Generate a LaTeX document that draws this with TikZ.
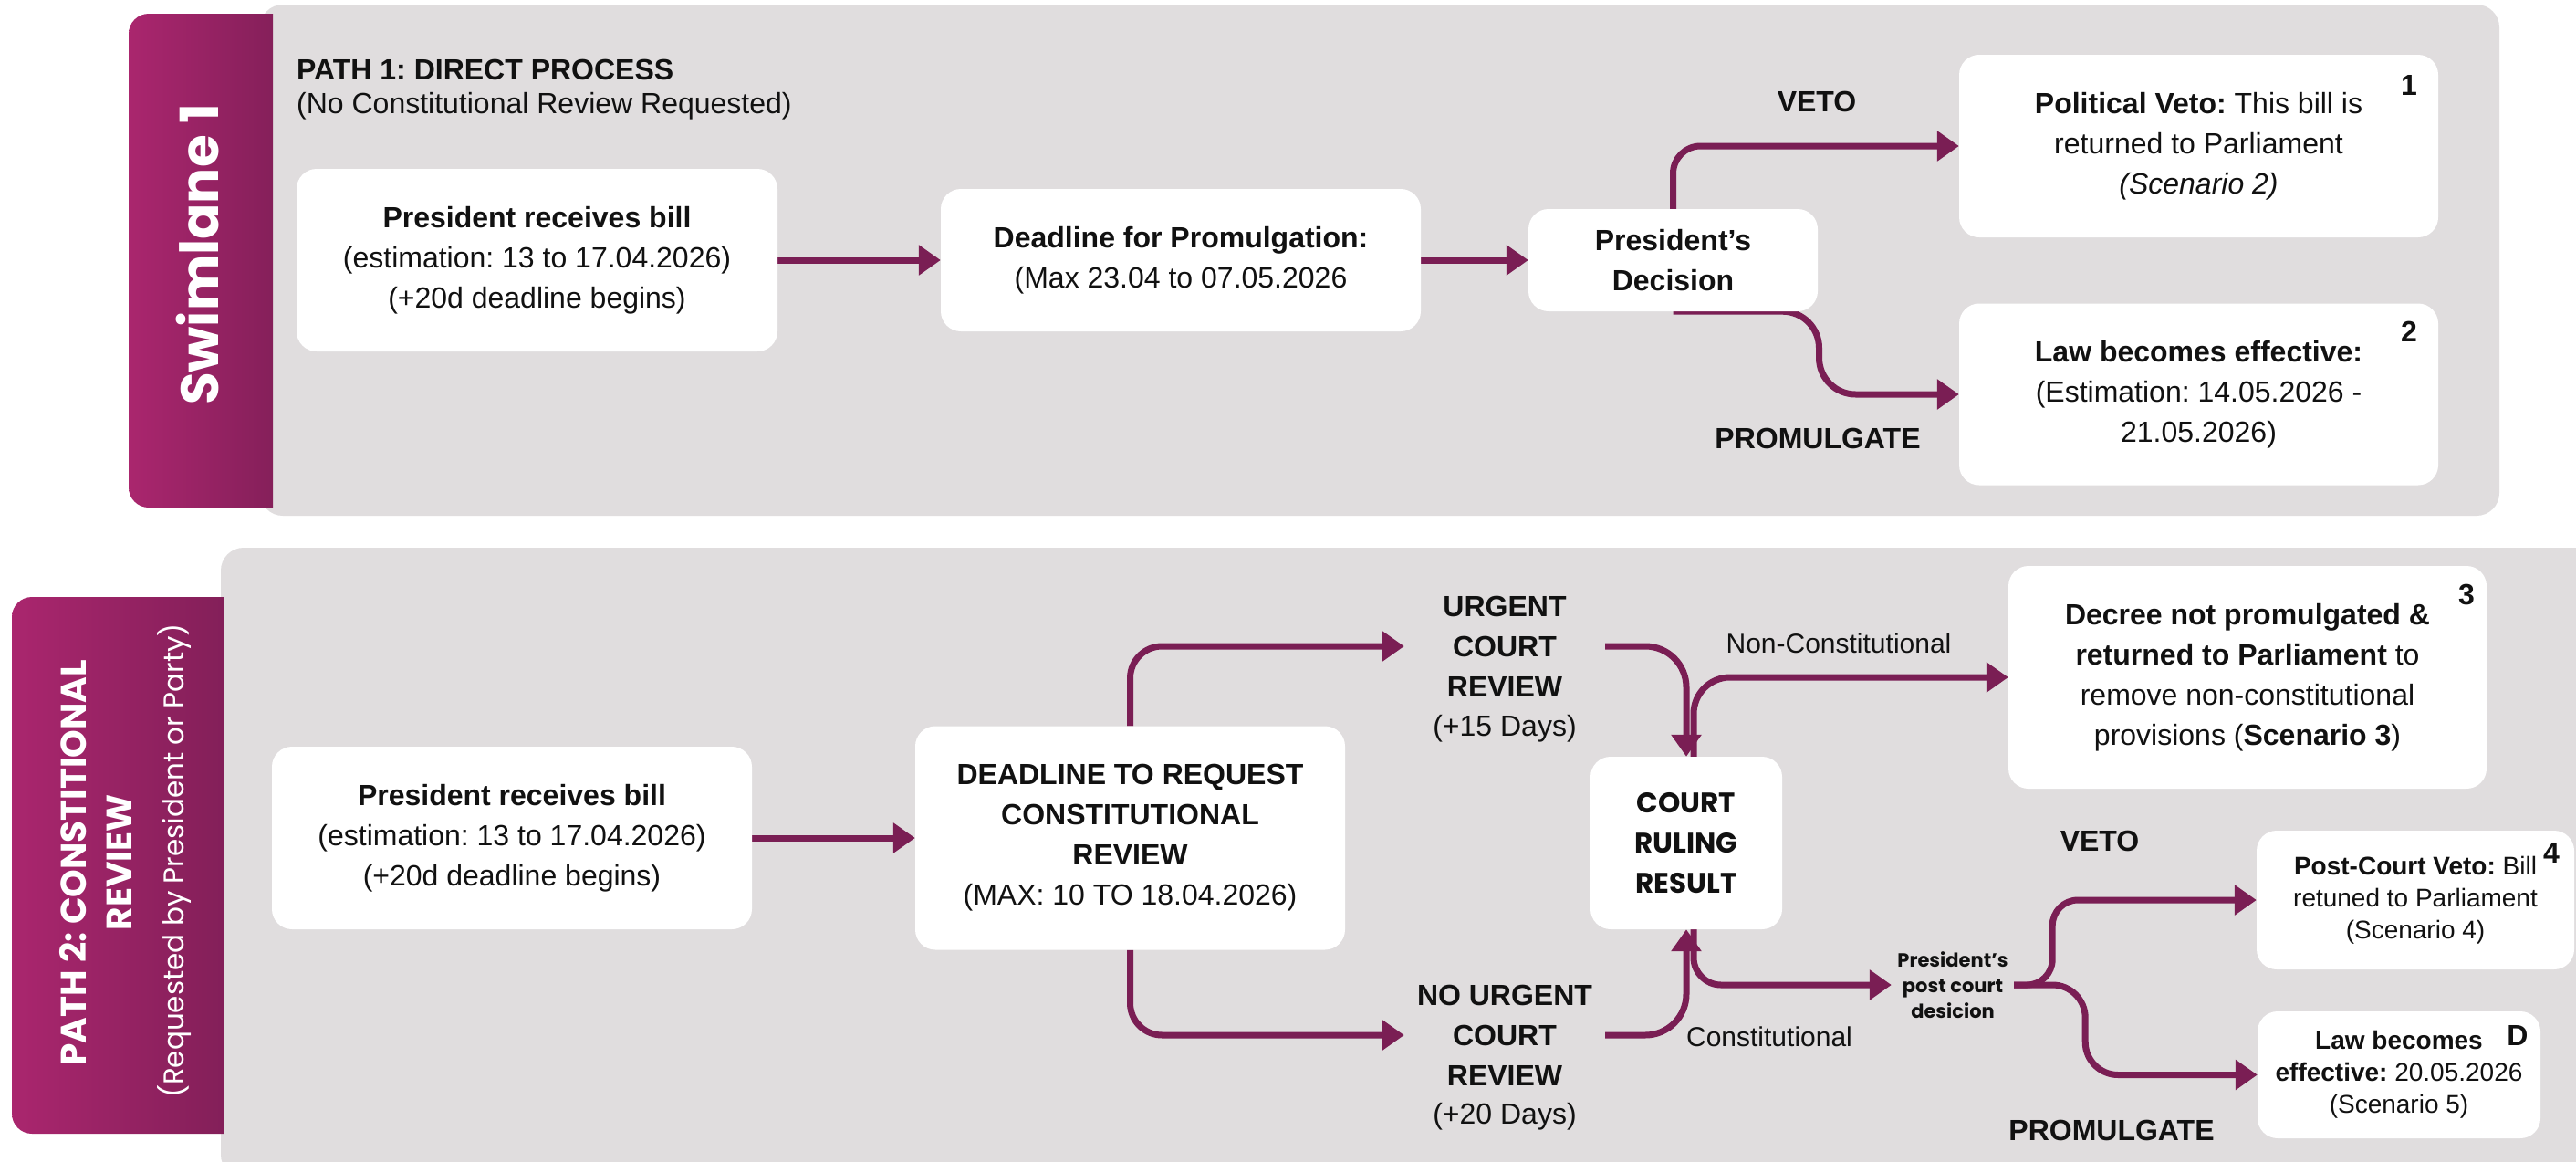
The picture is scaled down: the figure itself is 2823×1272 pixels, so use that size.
\documentclass[tikz,border=0pt]{standalone}
\usepackage{fontspec}
\setmainfont{Liberation Sans}
\newfontfamily\pop{Poppins}
\usetikzlibrary{arrows.meta,calc}
\newcommand\myfs[2]{\fontsize{#1}{#2}\selectfont}
\definecolor{linec}{RGB}{122,30,84}
\definecolor{panelg}{RGB}{224,221,222}
\definecolor{tabL}{RGB}{170,38,110}
\definecolor{tabR}{RGB}{124,30,85}
\definecolor{txt}{RGB}{17,17,17}
\pgfdeclarelayer{back}
\pgfdeclarelayer{mid}
\pgfsetlayers{back,mid,main}
\frenchspacing
\begin{document}
\begin{tikzpicture}[x=1pt,y=-1pt,
  box/.style={fill=white, rounded corners=22pt, align=center, text=txt, inner sep=0pt, font=\myfs{32}{44}},
  sbox/.style={box, font=\myfs{28}{35}},
  plain/.style={align=center, text=txt, inner sep=0pt, font=\myfs{32}{44}},
  lbl/.style={text=txt, inner sep=0pt, font=\bfseries\myfs{32}{34}},
  num/.style={text=txt, inner sep=0pt, font=\bfseries\myfs{32}{34}},
  elbl/.style={text=txt, inner sep=0pt, font=\myfs{30}{32}},
  conn/.style={draw=linec, line width=7pt, line join=round, -{Triangle[length=24pt,width=32pt]}},
  tabtxt/.style={rotate=90, text=white, inner sep=0pt}
]
\useasboundingbox (0,0) rectangle (2823,1272);

% ---------- panels and tabs ----------
\begin{pgfonlayer}{back}
\fill[white] (0,0) rectangle (2823,1272);
\fill[panelg, rounded corners=25pt] (285,5) rectangle (2739,565);
\fill[panelg, rounded corners=25pt] (242,600) rectangle (2870,1290);
\begin{scope}
\clip (141,15) rectangle (299,556);
\shade[left color=tabL, right color=tabR, rounded corners=22pt] (141,15) rectangle (340,556);
\end{scope}
\begin{scope}
\clip (13,654) rectangle (245,1242);
\shade[left color=tabL, right color=tabR, rounded corners=22pt] (13,654) rectangle (290,1242);
\end{scope}
\end{pgfonlayer}

\node[tabtxt, font=\pop\bfseries\myfs{58}{60}] (sw) at (216,279) {Swimlane 1};
\node[tabtxt, font=\pop\bfseries\myfs{39}{44}] (p2a) at (80,945) {PATH 2: CONSTITIONAL};
\node[tabtxt, font=\pop\bfseries\myfs{39}{44}] (p2b) at (131,945) {REVIEW};
\node[tabtxt, font=\pop\myfs{31}{36}] (p2c) at (191,943) {(Requested by President or Party)};

% ---------- path 1 ----------
\node[anchor=west, inner sep=0pt, text=txt, font=\bfseries\myfs{32}{36}] (t1) at (325,76) {PATH 1: DIRECT PROCESS};
\node[anchor=west, inner sep=0pt, text=txt, font=\myfs{32}{36}] (t1b) at (325,116) {(No Constitutional Review Requested)};

\node[box, minimum width=527pt, minimum height=200pt] (A1) at (588.5,285)
  {\textbf{President receives bill}\\(estimation: 13 to 17.04.2026)\\(+20d deadline begins)};
\node[box, minimum width=526pt, minimum height=156pt] (A2) at (1294,285)
  {\textbf{Deadline for Promulgation:}\\(Max 23.04 to 07.05.2026};
\node[box, minimum width=317pt, minimum height=112pt] (A3) at (1833.5,285)
  {\textbf{President’s}\\\textbf{Decision}};
\node[box, minimum width=525pt, minimum height=200pt] (A4) at (2409.5,160)
  {\textbf{Political Veto:} This bill is\\returned to Parliament\\\textit{(Scenario 2)}};
\node[box, minimum width=525pt, minimum height=199pt] (A5) at (2409.5,432)
  {\textbf{Law becomes effective:}\\(Estimation: 14.05.2026 -\\21.05.2026)};
\node[num] (n1) at (2640,93) {1};
\node[num] (n2) at (2640,363) {2};
\node[lbl] (veto1) at (1991,111) {VETO};
\node[lbl] (prom1) at (1992,480) {PROMULGATE};

\begin{pgfonlayer}{mid}
\draw[conn] (A1.east) -- (A2.west);
\draw[conn] (A2.east) -- (A3.west);
\draw[conn, rounded corners=30pt] (A3.north) |- (A4.west);
\coordinate (pA) at ($(A3.south)+(160,0)$);
\draw[conn, rounded corners=40pt] (A3.south) -- (pA) |- (A5.west);
\end{pgfonlayer}

% ---------- path 2 ----------
\node[box, minimum width=526pt, minimum height=200pt] (B1) at (561,918)
  {\textbf{President receives bill}\\(estimation: 13 to 17.04.2026)\\(+20d deadline begins)};
\node[box, minimum width=471pt, minimum height=245pt] (B2) at (1238.5,918)
  {\textbf{DEADLINE TO REQUEST}\\\textbf{CONSTITUTIONAL}\\\textbf{REVIEW}\\(MAX: 10 TO 18.04.2026)};
\node[plain, minimum width=220pt, font=\bfseries\myfs{32}{44}] (U) at (1649,708) {URGENT\\COURT\\REVIEW};
\node[plain] (U2) at (1649,798) {(+15 Days)};
\node[plain, minimum width=220pt, font=\bfseries\myfs{32}{44}] (NU) at (1649,1134) {NO URGENT\\COURT\\REVIEW};
\node[plain] (NU2) at (1649,1223) {(+20 Days)};
\node[box, minimum width=210pt, minimum height=189pt, font=\pop\bfseries\myfs{31}{44}] (B3) at (1848,923.5)
  {COURT\\RULING\\RESULT};
\node[box, minimum width=524pt, minimum height=244pt] (B4) at (2463,742)
  {\textbf{Decree not promulgated \&}\\\textbf{returned to Parliament} to\\remove non-constitutional\\provisions (\textbf{Scenario 3})};
\node[num] (n3) at (2703,651) {3};
\node[elbl] (nc) at (2015,705) {Non-Constitutional};
\node[elbl] (cc) at (1939,1136) {Constitutional};
\node[plain, minimum width=134pt, font=\pop\bfseries\myfs{21}{28}] (PD) at (2140,1079)
  {President’s\\post court\\desicion};
\node[sbox, minimum width=348pt, minimum height=152pt] (B5) at (2647,986)
  {\textbf{Post-Court Veto:} Bill\\retuned to Parliament\\(Scenario 4)};
\node[num] (n4) at (2796,934) {4};
\node[sbox, minimum width=310pt, minimum height=139pt] (B6) at (2629,1177.5)
  {\textbf{Law becomes}\\\textbf{effective:} 20.05.2026\\(Scenario 5)};
\node[num] (nD) at (2759,1134) {D};
\node[lbl] (veto2) at (2301,921) {VETO};
\node[lbl] (prom2) at (2314,1238) {PROMULGATE};

\begin{pgfonlayer}{mid}
\draw[conn] (B1.east) -- (B2.west);
\draw[conn, rounded corners=35pt] (B2.north) |- (U.west);
\draw[conn, rounded corners=35pt] (B2.south) |- (NU.west);
\draw[conn, rounded corners=45pt] (U.east) -| (B3.north);
\draw[conn, rounded corners=45pt] (NU.east) -| (B3.south);
\draw[conn, rounded corners=40pt] ($(B3.north)+(8,0)$) |- (B4.west);
\draw[conn, rounded corners=30pt] ($(B3.south)+(8,0)$) |- (PD.west);
\coordinate (jV) at ($(PD.east)+(42,0)$);
\coordinate (jP) at ($(PD.east)+(78,0)$);
\draw[conn, rounded corners=28pt] (PD.east) -- (jV) |- (B5.west);
\draw[conn, rounded corners=36pt] (PD.east) -- (jP) |- (B6.west);
\end{pgfonlayer}
\end{tikzpicture}
\end{document}
